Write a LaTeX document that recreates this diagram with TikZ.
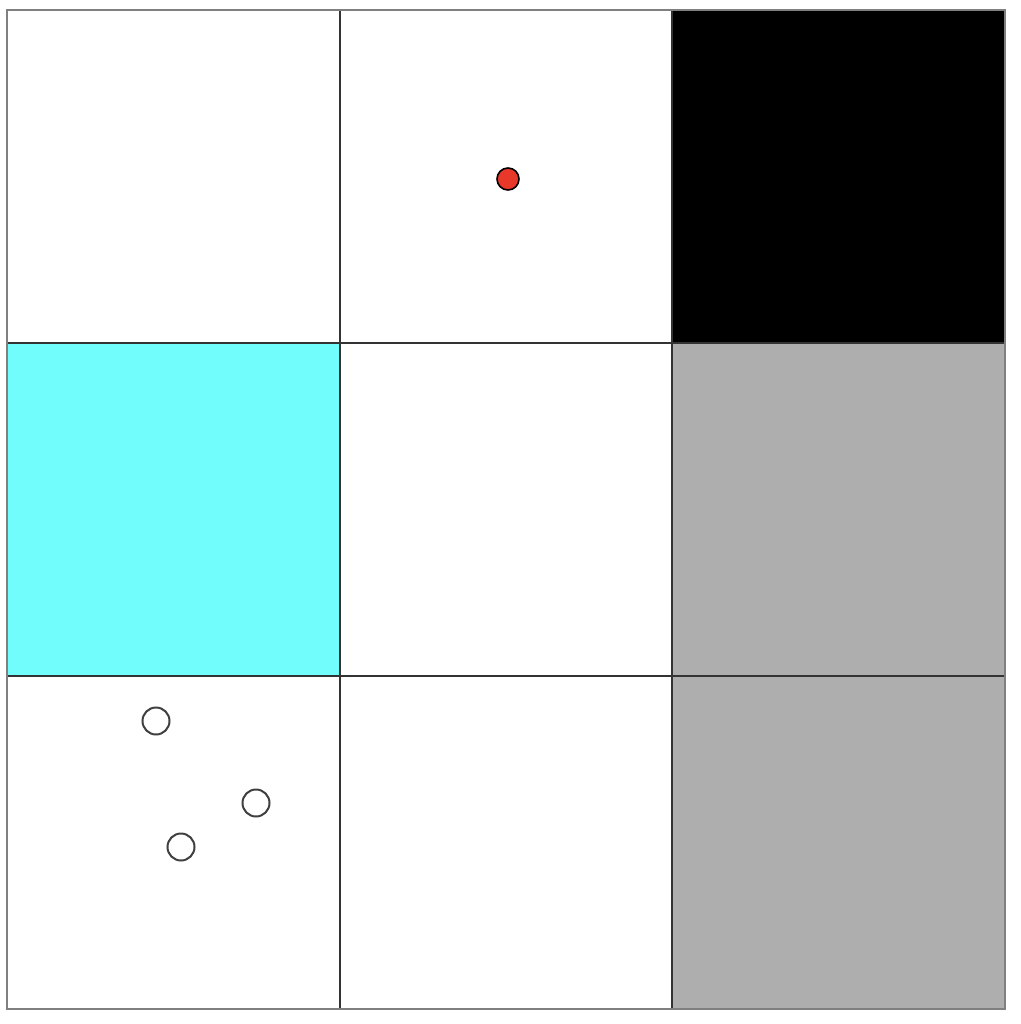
\documentclass[tikz,border=0pt]{standalone}
\begin{document}
\begin{tikzpicture}[x=1pt,y=-1pt,
  cell/.style={draw=black!80, line width=1.6pt},
  ring/.style={circle, draw=black!75, line width=2pt, fill=white, minimum size=27pt, inner sep=0pt},
  dot/.style={circle, draw=black, line width=1.6pt, fill=red!85!black!90!white, minimum size=22pt, inner sep=0pt}]
\definecolor{cyanc}{HTML}{70FDFB}
\definecolor{grayc}{HTML}{AEAEAE}
\definecolor{redc}{HTML}{E8382A}
\useasboundingbox (0,0) rectangle (1020,1024);
\fill[white] (0,0) rectangle (1020,1024);
% fills
\fill[black] (672,10) rectangle (1005,343);
\fill[cyanc] (7,343) rectangle (340,676);
\fill[grayc] (672,343) rectangle (1005,1009);
% inner grid lines
\draw[cell] (340,10) -- (340,1009);
\draw[cell] (672,10) -- (672,1009);
\draw[cell] (7,343) -- (1005,343);
\draw[cell] (7,676) -- (1005,676);
% outer border
\draw[draw=black!50, line width=2pt] (7,10) rectangle (1005,1009);
% items
\node[dot, fill=redc] (r) at (508,179) {};
\node[ring] (c1) at (156,721) {};
\node[ring] (c2) at (256,803) {};
\node[ring] (c3) at (181,847) {};
\end{tikzpicture}
\end{document}
